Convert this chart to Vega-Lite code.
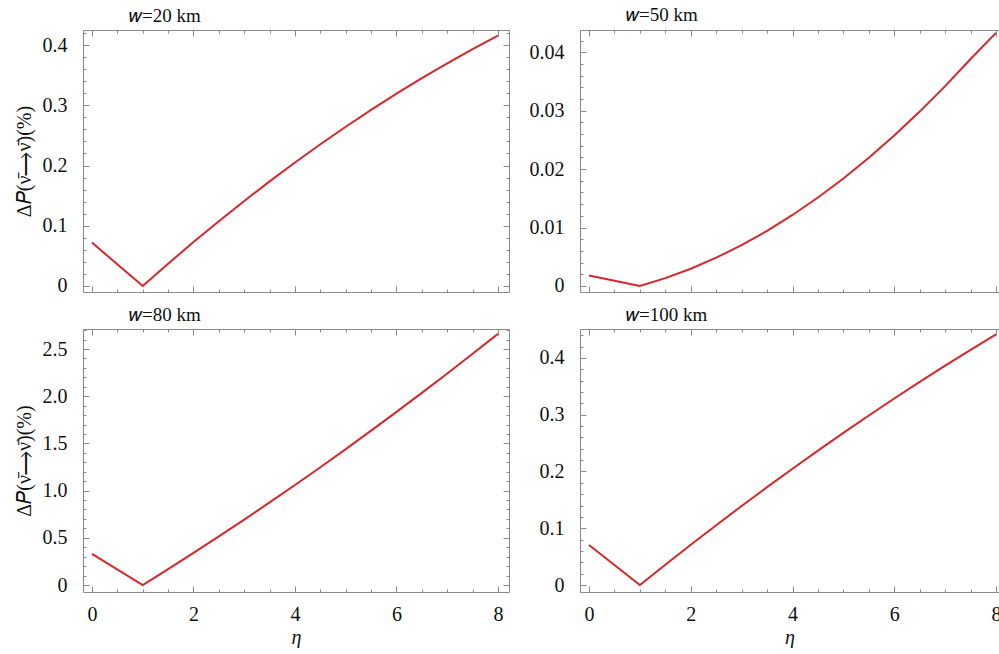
{
  "$schema": "https://vega.github.io/schema/vega-lite/v6.json",
  "padding": {"left": 13, "top": 5, "right": -3, "bottom": 0},
  "background": "white",
  "datasets": {
    "curves": [
      {"w": 20, "eta": 0, "dp": 0.072}, {"w": 20, "eta": 1, "dp": 0}, {"w": 20, "eta": 1.5, "dp": 0.037}, {"w": 20, "eta": 2, "dp": 0.0729}, {"w": 20, "eta": 2.5, "dp": 0.1076}, {"w": 20, "eta": 3, "dp": 0.1412}, {"w": 20, "eta": 3.5, "dp": 0.1737}, {"w": 20, "eta": 4, "dp": 0.2051}, {"w": 20, "eta": 4.5, "dp": 0.2353}, {"w": 20, "eta": 5, "dp": 0.2644}, {"w": 20, "eta": 5.5, "dp": 0.2924}, {"w": 20, "eta": 6, "dp": 0.3193}, {"w": 20, "eta": 6.5, "dp": 0.345}, {"w": 20, "eta": 7, "dp": 0.3696}, {"w": 20, "eta": 7.5, "dp": 0.3931}, {"w": 20, "eta": 8, "dp": 0.4155},
      {"w": 50, "eta": 0, "dp": 0.0018}, {"w": 50, "eta": 1, "dp": 0}, {"w": 50, "eta": 1.5, "dp": 0.00134}, {"w": 50, "eta": 2, "dp": 0.00295}, {"w": 50, "eta": 2.5, "dp": 0.00484}, {"w": 50, "eta": 3, "dp": 0.007}, {"w": 50, "eta": 3.5, "dp": 0.00944}, {"w": 50, "eta": 4, "dp": 0.01215}, {"w": 50, "eta": 4.5, "dp": 0.01514}, {"w": 50, "eta": 5, "dp": 0.0184}, {"w": 50, "eta": 5.5, "dp": 0.02194}, {"w": 50, "eta": 6, "dp": 0.02575}, {"w": 50, "eta": 6.5, "dp": 0.02984}, {"w": 50, "eta": 7, "dp": 0.0342}, {"w": 50, "eta": 7.5, "dp": 0.03884}, {"w": 50, "eta": 8, "dp": 0.0433},
      {"w": 80, "eta": 0, "dp": 0.33}, {"w": 80, "eta": 1, "dp": 0}, {"w": 80, "eta": 1.5, "dp": 0.168}, {"w": 80, "eta": 2, "dp": 0.34}, {"w": 80, "eta": 2.5, "dp": 0.515}, {"w": 80, "eta": 3, "dp": 0.693}, {"w": 80, "eta": 3.5, "dp": 0.875}, {"w": 80, "eta": 4, "dp": 1.06}, {"w": 80, "eta": 4.5, "dp": 1.248}, {"w": 80, "eta": 5, "dp": 1.44}, {"w": 80, "eta": 5.5, "dp": 1.635}, {"w": 80, "eta": 6, "dp": 1.834}, {"w": 80, "eta": 6.5, "dp": 2.035}, {"w": 80, "eta": 7, "dp": 2.24}, {"w": 80, "eta": 7.5, "dp": 2.449}, {"w": 80, "eta": 8, "dp": 2.66},
      {"w": 100, "eta": 0, "dp": 0.0705}, {"w": 100, "eta": 1, "dp": 0}, {"w": 100, "eta": 1.5, "dp": 0.0358}, {"w": 100, "eta": 2, "dp": 0.0709}, {"w": 100, "eta": 2.5, "dp": 0.1054}, {"w": 100, "eta": 3, "dp": 0.1392}, {"w": 100, "eta": 3.5, "dp": 0.1724}, {"w": 100, "eta": 4, "dp": 0.2049}, {"w": 100, "eta": 4.5, "dp": 0.2368}, {"w": 100, "eta": 5, "dp": 0.268}, {"w": 100, "eta": 5.5, "dp": 0.2986}, {"w": 100, "eta": 6, "dp": 0.3285}, {"w": 100, "eta": 6.5, "dp": 0.3578}, {"w": 100, "eta": 7, "dp": 0.3864}, {"w": 100, "eta": 7.5, "dp": 0.4144}, {"w": 100, "eta": 8, "dp": 0.4417}
    ]
  },
  "data": {"name": "curves"},
  "columns": 2,
  "spacing": {"row": 37, "column": 71},
  "bounds": "flush",
  "concat": [
    {
      "width": 426, "height": 262,
      "title": {"text": "𝑤=20 km"},
      "transform": [{"filter": "datum.w == 20"}],
      "layer": [
        {
          "mark": {"type": "line"},
          "encoding": {
            "x": {"field": "eta", "type": "quantitative", "scale": {"domain": [-0.177, 8.217], "nice": false, "zero": false},
              "axis": {"orient": "bottom", "values": [0,0.5,1,1.5,2,2.5,3,3.5,4,4.5,5,5.5,6,6.5,7,7.5,8], "labels": false, "title": null,
                "tickSize": {"condition": {"test": "abs(datum.value/2 - round(datum.value/2)) < 0.001", "value": -6}, "value": -3}}},
            "y": {"field": "dp", "type": "quantitative", "scale": {"domain": [-0.01, 0.425], "nice": false, "zero": false},
              "axis": {"orient": "left", "values": [0,0.02,0.04,0.06,0.08,0.1,0.12,0.14,0.16,0.18,0.2,0.22,0.24,0.26,0.28,0.3,0.32,0.34,0.36,0.38,0.4,0.42],
                "labelExpr": "abs(datum.value*10 - round(datum.value*10)) < 0.001 ? (datum.value == 0 ? '0' : format(datum.value, '.1f')) : ''",
                "tickSize": {"condition": {"test": "abs(datum.value*10 - round(datum.value*10)) < 0.001", "value": -6}, "value": -3},
                "labelPadding": 22, "title": "Δ𝑃(ν̄⟶ν̄)(%)", "titlePadding": 8}}
          }
        },
        {
          "mark": {"type": "line", "strokeOpacity": 0},
          "encoding": {
            "x": {"field": "eta", "type": "quantitative", "scale": {"domain": [-0.177, 8.217], "nice": false, "zero": false},
              "axis": {"orient": "top", "values": [0,0.5,1,1.5,2,2.5,3,3.5,4,4.5,5,5.5,6,6.5,7,7.5,8], "labels": false, "title": null,
                "tickSize": {"condition": {"test": "abs(datum.value/2 - round(datum.value/2)) < 0.001", "value": -6}, "value": -3}}},
            "y": {"field": "dp", "type": "quantitative", "scale": {"domain": [-0.01, 0.425], "nice": false, "zero": false},
              "axis": {"orient": "right", "values": [0,0.02,0.04,0.06,0.08,0.1,0.12,0.14,0.16,0.18,0.2,0.22,0.24,0.26,0.28,0.3,0.32,0.34,0.36,0.38,0.4,0.42], "labels": false, "title": null,
                "tickSize": {"condition": {"test": "abs(datum.value*10 - round(datum.value*10)) < 0.001", "value": -6}, "value": -3}}}
          }
        }
      ],
      "resolve": {"axis": {"x": "independent", "y": "independent"}}
    },
    {
      "width": 419, "height": 262,
      "title": {"text": "𝑤=50 km"},
      "transform": [{"filter": "datum.w == 50"}],
      "layer": [
        {
          "mark": {"type": "line"},
          "encoding": {
            "x": {"field": "eta", "type": "quantitative", "scale": {"domain": [-0.177, 8.059], "nice": false, "zero": false},
              "axis": {"orient": "bottom", "values": [0,0.5,1,1.5,2,2.5,3,3.5,4,4.5,5,5.5,6,6.5,7,7.5,8], "labels": false, "title": null,
                "tickSize": {"condition": {"test": "abs(datum.value/2 - round(datum.value/2)) < 0.001", "value": -6}, "value": -3}}},
            "y": {"field": "dp", "type": "quantitative", "scale": {"domain": [-0.00103, 0.0438], "nice": false, "zero": false},
              "axis": {"orient": "left", "values": [0,0.002,0.004,0.006,0.008,0.01,0.012,0.014,0.016,0.018,0.02,0.022,0.024,0.026,0.028,0.03,0.032,0.034,0.036,0.038,0.04,0.042],
                "labelExpr": "abs(datum.value*100 - round(datum.value*100)) < 0.001 ? (datum.value == 0 ? '0' : format(datum.value, '.2f')) : ''",
                "tickSize": {"condition": {"test": "abs(datum.value*100 - round(datum.value*100)) < 0.001", "value": -6}, "value": -3},
                "labelPadding": 22, "title": null}}
          }
        },
        {
          "mark": {"type": "line", "strokeOpacity": 0},
          "encoding": {
            "x": {"field": "eta", "type": "quantitative", "scale": {"domain": [-0.177, 8.059], "nice": false, "zero": false},
              "axis": {"orient": "top", "values": [0,0.5,1,1.5,2,2.5,3,3.5,4,4.5,5,5.5,6,6.5,7,7.5,8], "labels": false, "title": null,
                "tickSize": {"condition": {"test": "abs(datum.value/2 - round(datum.value/2)) < 0.001", "value": -6}, "value": -3}}},
            "y": {"field": "dp", "type": "quantitative", "scale": {"domain": [-0.00103, 0.0438], "nice": false, "zero": false}, "axis": null}
          }
        }
      ],
      "resolve": {"axis": {"x": "independent", "y": "independent"}}
    },
    {
      "width": 426, "height": 263,
      "title": {"text": "𝑤=80 km"},
      "transform": [{"filter": "datum.w == 80"}],
      "layer": [
        {
          "mark": {"type": "line"},
          "encoding": {
            "x": {"field": "eta", "type": "quantitative", "scale": {"domain": [-0.177, 8.217], "nice": false, "zero": false},
              "axis": {"orient": "bottom", "values": [0,0.5,1,1.5,2,2.5,3,3.5,4,4.5,5,5.5,6,6.5,7,7.5,8],
                "labelExpr": "abs(datum.value/2 - round(datum.value/2)) < 0.001 ? format(datum.value, 'd') : ''",
                "tickSize": {"condition": {"test": "abs(datum.value/2 - round(datum.value/2)) < 0.001", "value": -6}, "value": -3},
                "labelPadding": 18, "title": "η", "titleFontStyle": "italic", "titlePadding": 3}},
            "y": {"field": "dp", "type": "quantitative", "scale": {"domain": [-0.074, 2.712], "nice": false, "zero": false},
              "axis": {"orient": "left", "values": [0,0.1,0.2,0.3,0.4,0.5,0.6,0.7,0.8,0.9,1,1.1,1.2,1.3,1.4,1.5,1.6,1.7,1.8,1.9,2,2.1,2.2,2.3,2.4,2.5,2.6,2.7],
                "labelExpr": "abs(datum.value*2 - round(datum.value*2)) < 0.001 ? (datum.value == 0 ? '0' : format(datum.value, '.1f')) : ''",
                "tickSize": {"condition": {"test": "abs(datum.value*2 - round(datum.value*2)) < 0.001", "value": -6}, "value": -3},
                "labelPadding": 22, "title": "Δ𝑃(ν̄⟶ν̄)(%)", "titlePadding": 8}}
          }
        },
        {
          "mark": {"type": "line", "strokeOpacity": 0},
          "encoding": {
            "x": {"field": "eta", "type": "quantitative", "scale": {"domain": [-0.177, 8.217], "nice": false, "zero": false},
              "axis": {"orient": "top", "values": [0,0.5,1,1.5,2,2.5,3,3.5,4,4.5,5,5.5,6,6.5,7,7.5,8], "labels": false, "title": null,
                "tickSize": {"condition": {"test": "abs(datum.value/2 - round(datum.value/2)) < 0.001", "value": -6}, "value": -3}}},
            "y": {"field": "dp", "type": "quantitative", "scale": {"domain": [-0.074, 2.712], "nice": false, "zero": false},
              "axis": {"orient": "right", "values": [0,0.1,0.2,0.3,0.4,0.5,0.6,0.7,0.8,0.9,1,1.1,1.2,1.3,1.4,1.5,1.6,1.7,1.8,1.9,2,2.1,2.2,2.3,2.4,2.5,2.6,2.7], "labels": false, "title": null,
                "tickSize": {"condition": {"test": "abs(datum.value*2 - round(datum.value*2)) < 0.001", "value": -6}, "value": -3}}}
          }
        }
      ],
      "resolve": {"axis": {"x": "independent", "y": "independent"}}
    },
    {
      "width": 419, "height": 263,
      "title": {"text": "𝑤=100 km"},
      "transform": [{"filter": "datum.w == 100"}],
      "layer": [
        {
          "mark": {"type": "line"},
          "encoding": {
            "x": {"field": "eta", "type": "quantitative", "scale": {"domain": [-0.177, 8.059], "nice": false, "zero": false},
              "axis": {"orient": "bottom", "values": [0,0.5,1,1.5,2,2.5,3,3.5,4,4.5,5,5.5,6,6.5,7,7.5,8],
                "labelExpr": "abs(datum.value/2 - round(datum.value/2)) < 0.001 ? format(datum.value, 'd') : ''",
                "tickSize": {"condition": {"test": "abs(datum.value/2 - round(datum.value/2)) < 0.001", "value": -6}, "value": -3},
                "labelPadding": 18, "title": "η", "titleFontStyle": "italic", "titlePadding": 3}},
            "y": {"field": "dp", "type": "quantitative", "scale": {"domain": [-0.0123, 0.451], "nice": false, "zero": false},
              "axis": {"orient": "left", "values": [0,0.02,0.04,0.06,0.08,0.1,0.12,0.14,0.16,0.18,0.2,0.22,0.24,0.26,0.28,0.3,0.32,0.34,0.36,0.38,0.4,0.42,0.44],
                "labelExpr": "abs(datum.value*10 - round(datum.value*10)) < 0.001 ? (datum.value == 0 ? '0' : format(datum.value, '.1f')) : ''",
                "tickSize": {"condition": {"test": "abs(datum.value*10 - round(datum.value*10)) < 0.001", "value": -6}, "value": -3},
                "labelPadding": 22, "title": null}}
          }
        },
        {
          "mark": {"type": "line", "strokeOpacity": 0},
          "encoding": {
            "x": {"field": "eta", "type": "quantitative", "scale": {"domain": [-0.177, 8.059], "nice": false, "zero": false},
              "axis": {"orient": "top", "values": [0,0.5,1,1.5,2,2.5,3,3.5,4,4.5,5,5.5,6,6.5,7,7.5,8], "labels": false, "title": null,
                "tickSize": {"condition": {"test": "abs(datum.value/2 - round(datum.value/2)) < 0.001", "value": -6}, "value": -3}}},
            "y": {"field": "dp", "type": "quantitative", "scale": {"domain": [-0.0123, 0.451], "nice": false, "zero": false}, "axis": null}
          }
        }
      ],
      "resolve": {"axis": {"x": "independent", "y": "independent"}}
    }
  ],
  "config": {
    "view": {"stroke": "#8a8a8a", "strokeWidth": 1},
    "axis": {"domain": false, "grid": false, "tickColor": "#8a8a8a", "tickWidth": 1,
      "labelFont": "Liberation Serif", "labelFontSize": 20, "labelColor": "#111111",
      "titleFont": "Liberation Serif", "titleFontSize": 20, "titleFontWeight": "normal", "titleColor": "#111111"},
    "title": {"font": "Liberation Serif", "fontSize": 19, "fontWeight": "normal", "color": "#111111", "anchor": "start", "frame": "group", "dx": 46, "offset": 4},
    "line": {"color": "#d7262c", "strokeWidth": 2}
  }
}
